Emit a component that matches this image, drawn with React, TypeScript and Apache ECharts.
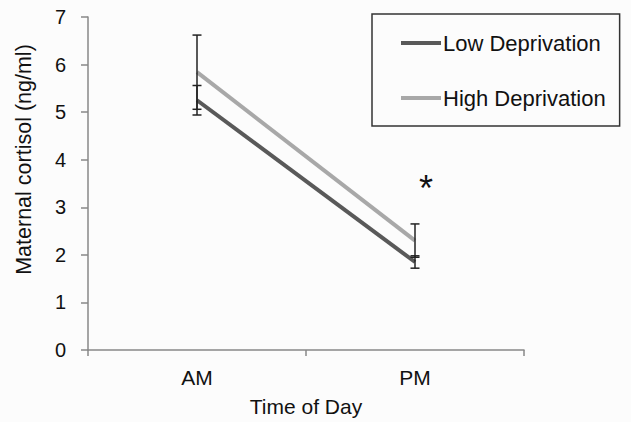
import React, { useEffect, useRef } from "react";
import * as echarts from "echarts";

const categories = ["AM", "PM"];
const lowMeans = [5.25, 1.85];
const lowErr = [0.31, 0.13];
const highMeans = [5.84, 2.3];
const highErr = [0.78, 0.35];
const yTicks = [0, 1, 2, 3, 4, 5, 6, 7];
const asteriskAt = { category: "PM", value: 3.4 };

const FONT = "Liberation Sans, Arial, sans-serif";

export default function App() {
  const ref = useRef<HTMLDivElement>(null);
  useEffect(() => {
    if (!ref.current) return;
    const chart = echarts.init(ref.current, undefined, { renderer: "svg" });
    const errData: number[][] = [];
    lowMeans.forEach((m, i) => errData.push([i, m - lowErr[i], m + lowErr[i]]));
    highMeans.forEach((m, i) => errData.push([i, m - highErr[i], m + highErr[i]]));
    chart.setOption({
      animation: false,
      backgroundColor: "#fcfcfc",
      textStyle: { fontFamily: FONT },
      grid: { left: 88, right: 107, top: 17, bottom: 69, containLabel: false },
      legend: {
        orient: "vertical",
        left: 372,
        top: 14,
        padding: [18, 14, 17, 29],
        itemGap: 33,
        itemWidth: 40,
        itemHeight: 4,
        icon: "rect",
        borderColor: "#333",
        borderWidth: 1.5,
        textStyle: { fontSize: 22, color: "#111", lineHeight: 22, fontFamily: FONT, padding: [0, 0, 0, -3] },
        data: ["Low Deprivation", "High Deprivation"],
      },
      xAxis: {
        type: "category",
        data: categories,
        boundaryGap: true,
        axisLine: { lineStyle: { color: "#888", width: 1.5 } },
        axisTick: { show: true, length: 6, lineStyle: { color: "#888", width: 1.5 } },
        axisLabel: { fontSize: 21, color: "#111", margin: 17 },
        name: "Time of Day",
        nameLocation: "middle",
        nameGap: 46,
        nameTextStyle: { fontSize: 21, color: "#111" },
      },
      yAxis: {
        type: "value",
        min: yTicks[0],
        max: yTicks[yTicks.length - 1],
        interval: 1,
        axisLine: { show: true, lineStyle: { color: "#888", width: 1.5 } },
        axisTick: { show: true, inside: false, length: 7, lineStyle: { color: "#888", width: 1.5 } },
        splitLine: { show: false },
        axisLabel: { fontSize: 20, color: "#111", margin: 22 },
        name: "Maternal cortisol (ng/ml)",
        nameLocation: "middle",
        nameGap: 53,
        nameTextStyle: { fontSize: 21.5, color: "#111", padding: [0, 0, 0, 48] },
      },
      series: [
        {
          name: "Low Deprivation",
          type: "line",
          data: lowMeans,
          symbol: "none",
          lineStyle: { color: "#595959", width: 4 },
          itemStyle: { color: "#595959" },
          z: 2,
        },
        {
          name: "High Deprivation",
          type: "line",
          data: highMeans,
          symbol: "none",
          lineStyle: { color: "#a8a8a8", width: 4 },
          itemStyle: { color: "#a8a8a8" },
          z: 2,
          markPoint: {
            symbol: "circle",
            symbolSize: 0,
            data: [{ coord: [asteriskAt.category, asteriskAt.value] }],
            label: {
              show: true,
              formatter: "*",
              position: "inside",
              offset: [11, 0],
              fontSize: 36,
              color: "#111",
              fontFamily: FONT,
            },
          },
        },
        {
          type: "custom",
          name: "err",
          data: errData,
          z: 5,
          renderItem: (params: any, api: any) => {
            const x = api.value(0);
            const lo = api.coord([x, api.value(1)]);
            const hi = api.coord([x, api.value(2)]);
            const w = 4.5;
            const style = { stroke: "#222", lineWidth: 1.5 };
            return {
              type: "group",
              children: [
                { type: "line", shape: { x1: lo[0], y1: lo[1], x2: hi[0], y2: hi[1] }, style },
                { type: "line", shape: { x1: lo[0] - w, y1: lo[1], x2: lo[0] + w, y2: lo[1] }, style },
                { type: "line", shape: { x1: hi[0] - w, y1: hi[1], x2: hi[0] + w, y2: hi[1] }, style },
              ],
            };
          },
        },
      ],
    });
    return () => chart.dispose();
  }, []);
  return <div ref={ref} style={{ width: 631, height: 422, position: "absolute", left: 0, top: 0 }} />;
}
